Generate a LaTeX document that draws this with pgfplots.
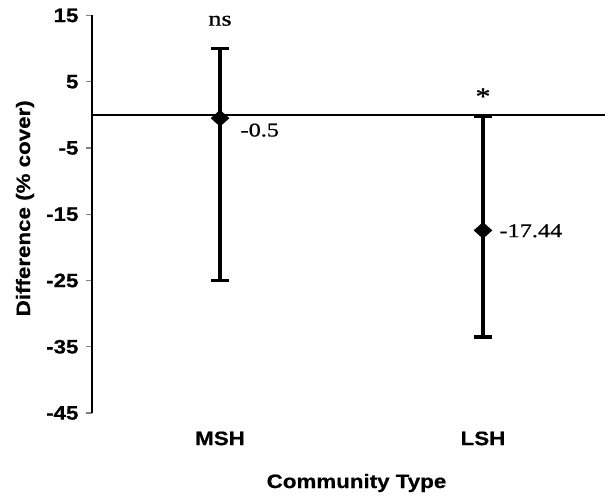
\documentclass[border=0pt]{standalone}
\usepackage{fontspec}
\setmainfont{Liberation Serif}
\newfontfamily\lsans{Liberation Sans Bold}[FakeStretch=1.15, FakeBold=0.6]
\newfontfamily\lserif{Liberation Serif}[FakeStretch=1.25, FakeBold=0.8]
\usepackage{pgfplots}
\pgfplotsset{compat=1.18}
\begin{document}
\begin{tikzpicture}
\begin{axis}[
  scale only axis,
  width=513bp, height=397.5bp,
  xmin=0.513, xmax=2.464,
  ymin=-45, ymax=15,
  axis lines*=left,
  x axis line style={draw=none},
  xtick={1,2}, xticklabels={MSH,LSH},
  xtick style={draw=none},
  xticklabel style={font=\lsans\fontsize{19.5}{22}\selectfont, yshift=-9bp},
  ytick={-45,-35,-25,-15,-5,5,15},
  yticklabels={-45,-35,-25,-15,-5,5,15},
  yticklabel style={font=\lsans\fontsize{19.5}{22}\selectfont, xshift=-4bp},
  tick align=outside,
  major tick length=6bp,
  y axis line style={line width=1.3bp},
  ytick style={line width=1.3bp},
  xlabel={Community Type},
  every axis x label/.style={at={(rel axis cs:0.5,0)}, anchor=center, yshift=-70bp, xshift=8bp, font=\lsans\fontsize{19.5}{22}\selectfont},
  ylabel={Difference (\% cover)},
  every axis y label/.style={at={(rel axis cs:0,0.5)}, xshift=-67bp, yshift=6bp, rotate=90, anchor=center, font=\lsans\fontsize{19.5}{22}\selectfont},
  clip=false,
]
\addplot[black, line width=1.5bp] coordinates {(0.513,0) (2.464,0)};
\addplot[
  only marks, mark=diamond*, mark size=8bp,
  mark options={fill=black, draw=black, xscale=1.5},
  error bars/.cd, y dir=both, y explicit,
  error bar style={line width=3.8bp, black},
  error mark options={rotate=90, mark size=9bp, line width=3.5bp, black},
] table[x=x, y=y, y error plus=ep, y error minus=em] {
x y ep em
1 -0.5 10.5 24.5
2 -17.44 17.2 16.06
};
\node[font=\lserif\fontsize{21}{24}\selectfont] at (axis cs:1,14.2) {ns};
\node[font=\lserif\fontsize{24}{24}\selectfont] at (axis cs:2,2.8) {*};
\node[font=\lserif\fontsize{19.5}{22}\selectfont, anchor=west] at (axis cs:1,-2.3) [xshift=17bp] {-0.5};
\node[font=\lserif\fontsize{19.5}{22}\selectfont, anchor=west] at (axis cs:2,-17.5) [xshift=13bp] {-17.44};
\end{axis}
\pgfresetboundingbox
\path (-92bp,-86bp) rectangle (513bp,413bp);
\end{tikzpicture}
\end{document}
